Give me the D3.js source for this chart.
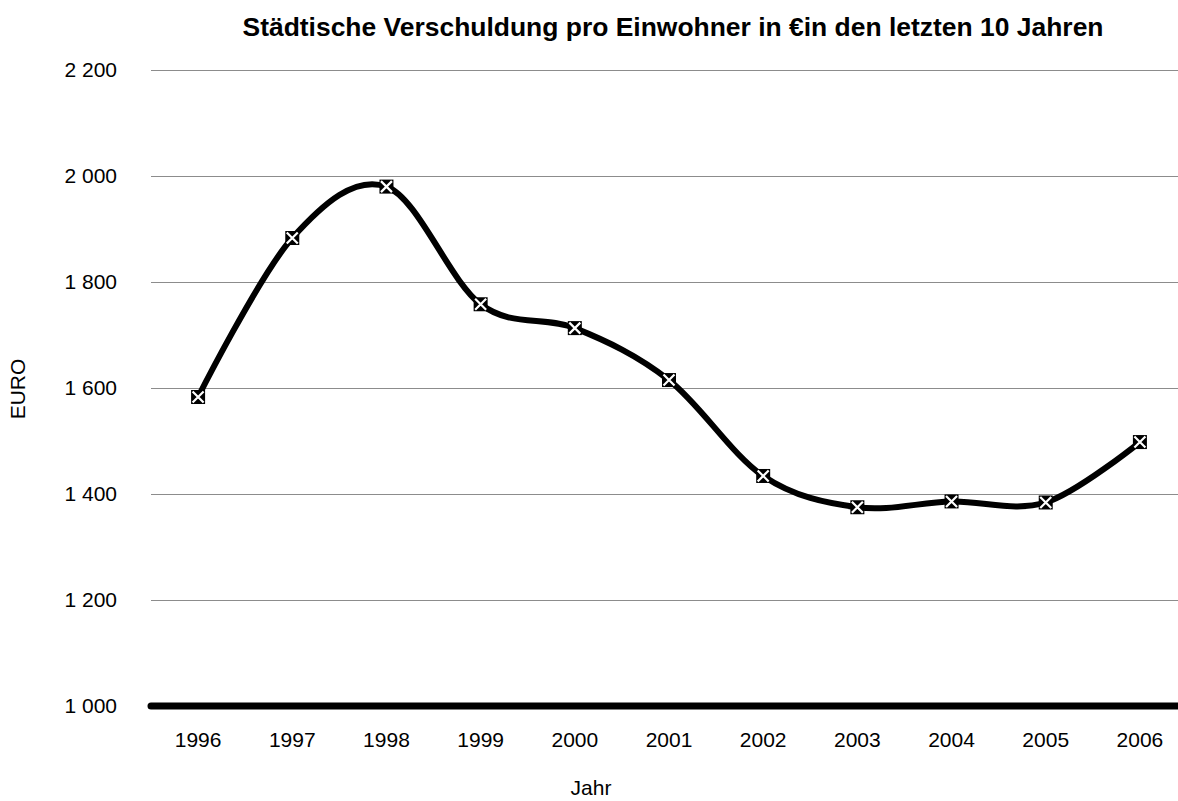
<!DOCTYPE html>
<html>
<head>
<meta charset="utf-8">
<script src="https://cdn.jsdelivr.net/npm/d3@7"></script>
<style>
  html, body { margin: 0; padding: 0; background: #fff; }
  svg { display: block; font-family: "Liberation Sans", Arial, sans-serif; }
</style>
</head>
<body>
<svg id="chart" width="1178" height="801"></svg>
<script>
// Per-capita municipal debt, 1996–2006
const years = ["1996","1997","1998","1999","2000","2001","2002","2003","2004","2005","2006"];
const debt = [1583, 1883, 1980, 1758, 1713, 1615, 1434, 1375, 1386, 1384, 1498];
const yTicks = [1000, 1200, 1400, 1600, 1800, 2000, 2200];

const titleText = "Städtische Verschuldung pro Einwohner in €in den letzten 10 Jahren";
const yTitle = "EURO";
const xTitle = "Jahr";

const svg = d3.select("#chart");
const plotLeft = 151, plotRight = 1187, plotTop = 70, plotBottom = 706;

const x = d3.scaleBand().domain(years).range([plotLeft, plotRight]);
const y = d3.scaleLinear().domain([1000, 2200]).range([plotBottom, plotTop]);
const fmt = v => d3.format(",")(v).replace(/,/g, " ");

// horizontal gridlines
svg.append("g")
  .selectAll("line")
  .data(yTicks.filter(t => t > 1000))
  .join("line")
  .attr("x1", plotLeft).attr("x2", plotRight)
  .attr("y1", d => y(d)).attr("y2", d => y(d))
  .attr("stroke", "#8c8c8c").attr("stroke-width", 1)
  .attr("shape-rendering", "crispEdges");

// y-axis tick labels
const yAxis = d3.axisLeft(y).tickValues(yTicks).tickFormat(fmt).tickSize(0).tickPadding(34);
const gy = svg.append("g").attr("transform", `translate(${plotLeft},0)`).call(yAxis);
gy.select(".domain").remove();
gy.selectAll("text").attr("font-size", 21).attr("fill", "#000")
  .attr("font-family", "Liberation Sans, Arial, sans-serif");

// x-axis tick labels
const xAxis = d3.axisBottom(x).tickSize(0).tickPadding(26);
const gx = svg.append("g").attr("transform", `translate(0,${plotBottom})`).call(xAxis);
gx.select(".domain").remove();
gx.selectAll("text").attr("font-size", 21).attr("fill", "#000")
  .attr("font-family", "Liberation Sans, Arial, sans-serif");

// thick baseline
svg.append("line")
  .attr("x1", plotLeft).attr("x2", plotRight)
  .attr("y1", y(1000)).attr("y2", y(1000))
  .attr("stroke", "#000").attr("stroke-width", 7)
  .attr("stroke-linecap", "round");

// smoothed series line
const line = d3.line()
  .x((d, i) => x(years[i]) + x.bandwidth() / 2)
  .y(d => y(d))
  .curve(d3.curveCatmullRom.alpha(0));

svg.append("path")
  .datum(debt)
  .attr("d", line)
  .attr("fill", "none")
  .attr("stroke", "#000")
  .attr("stroke-width", 6)
  .attr("stroke-linejoin", "round");

// markers: black square with white cross
const s = 7;
const markers = svg.append("g")
  .selectAll("g")
  .data(debt)
  .join("g")
  .attr("transform", (d, i) => `translate(${x(years[i]) + x.bandwidth() / 2},${y(d)})`);
markers.append("rect")
  .attr("x", -s).attr("y", -s).attr("width", 2 * s).attr("height", 2 * s)
  .attr("fill", "#000");
markers.append("path")
  .attr("d", `M${-s + 1.5},${-s + 1.5}L${s - 1.5},${s - 1.5}M${s - 1.5},${-s + 1.5}L${-s + 1.5},${s - 1.5}`)
  .attr("stroke", "#fff").attr("stroke-width", 2.2).attr("fill", "none");

// titles
svg.append("text")
  .attr("x", 673).attr("y", 36)
  .attr("text-anchor", "middle")
  .attr("font-size", 25).attr("font-weight", "bold")
  .attr("textLength", 861).attr("lengthAdjust", "spacingAndGlyphs")
  .text(titleText);

svg.append("text")
  .attr("transform", `translate(25,${(plotTop + plotBottom) / 2 + 1}) rotate(-90)`)
  .attr("text-anchor", "middle")
  .attr("font-size", 21)
  .text(yTitle);

svg.append("text")
  .attr("x", 591).attr("y", 795)
  .attr("text-anchor", "middle")
  .attr("font-size", 21)
  .text(xTitle);
</script>
</body>
</html>
